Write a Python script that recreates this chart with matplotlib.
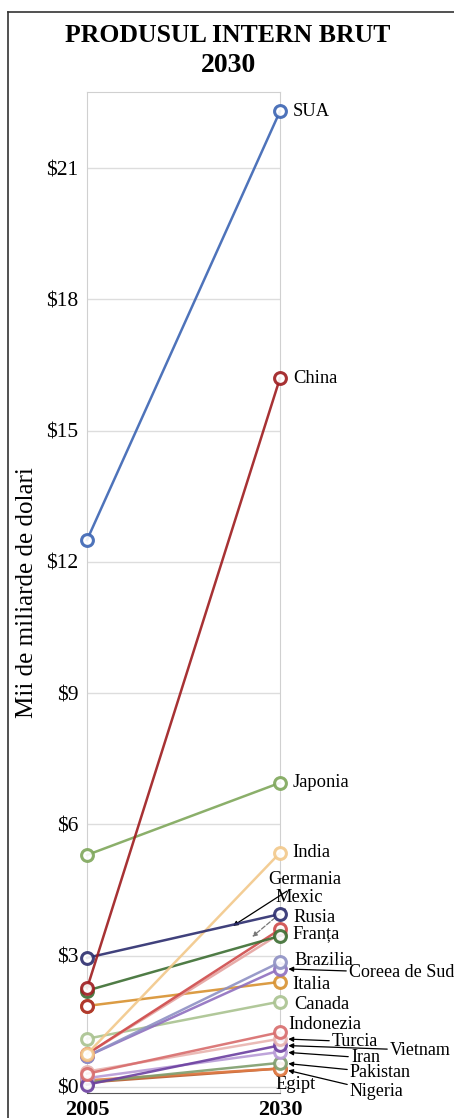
import matplotlib
matplotlib.use("Agg")
import matplotlib.pyplot as plt
from matplotlib.lines import Line2D

# date: PIB in mii de miliarde de dolari
tari = ['Nigeria', 'Egipt', 'Pakistan', 'Iran', 'Vietnam', 'Turcia', 'Indonezia',
        'Canada', 'Italia', 'Coreea de Sud', 'Brazilia', 'Mexic', 'Franța',
        'Germania', 'India', 'Rusia', 'Japonia', 'China', 'SUA']
pib_2005 = [0.10, 0.15, 0.10, 0.20, 0.05, 0.35, 0.30,
            1.10, 1.85, 0.70, 0.70, 0.75, 0.75,
            2.20, 0.75, 2.95, 5.30, 2.25, 12.5]
pib_2030 = [0.42, 0.42, 0.55, 0.80, 0.95, 1.10, 1.25,
            1.95, 2.40, 2.70, 2.85, 3.50, 3.60,
            3.45, 5.35, 3.95, 6.95, 16.2, 22.3]
culori = ['#b75a2b', '#e07b45', '#7f9e6d', '#b79ad6', '#6b3fa0', '#e8b4b0', '#d86c6c',
          '#a9c28f', '#d8912f', '#8f6fbf', '#8e90c4', '#e5a3a0', '#cf4a4a',
          '#3c6e32', '#f2c88a', '#2b2c6e', '#7ea75a', '#9e1b1e', '#3b64b3']
ani = [2005, 2030]
y_ticks = [0, 3, 6, 9, 12, 15, 18, 21]

# pozitii etichete (offset in pixeli fata de punctul din 2030)
etichete = {
    'SUA': (13, 0), 'China': (13, 0), 'Japonia': (13, 0), 'India': (12, 0),
    'Rusia': (13, -3), 'Franța': (12, -4), 'Brazilia': (14, 2), 'Italia': (12, -3),
    'Canada': (14, -3), 'Indonezia': (8, 8), 'Egipt': (-5, -16),
}
cu_sageata = {
    'Coreea de Sud': (69, -4), 'Turcia': (52, -3), 'Vietnam': (110, -5),
    'Iran': (71, -6), 'Pakistan': (70, -10), 'Nigeria': (70, -23),
}

serif = ['Liberation Serif', 'DejaVu Serif']
plt.rcParams['font.family'] = serif

fig = plt.figure(figsize=(4.54, 11.18), dpi=100)
ax = fig.add_axes([87 / 454, 1 - 1093 / 1118, 193 / 454, 1001 / 1118])

for i, t in enumerate(tari):
    ax.plot(ani, [pib_2005[i], pib_2030[i]], color=culori[i], lw=1.8, alpha=0.9,
            marker='o', ms=8.5, mfc='white', mec=culori[i], mew=2.2,
            clip_on=False, zorder=3 + i * 0.1)
# marker 2005 Italia (suprapus cu rosu)
k = tari.index('Italia')
ax.plot(ani[0], pib_2005[k], marker='o', ms=8.5, mfc='white', mec='#b0392e', mew=2.2,
        clip_on=False, zorder=6)

ax.set_xlim(2005, 2030)
ax.set_ylim(-0.14, 22.74)
ax.set_yticks(y_ticks)
ax.set_yticklabels(['$%d' % v for v in y_ticks], fontsize=15.5)
ax.set_xticks(ani)
ax.set_xticklabels([str(a) for a in ani], fontsize=16, fontweight='bold')
ax.tick_params(length=0)
ax.tick_params(axis='y', pad=6)
ax.tick_params(axis='x', pad=5)
ax.grid(axis='y', color='#dddddd', lw=1)
for s in ['left', 'right', 'top']:
    ax.spines[s].set_color('#d0d0d0')
ax.spines['bottom'].set_color('#555555')
ax.set_ylabel('Mii de miliarde de dolari', fontsize=18, labelpad=6)

for t, off in etichete.items():
    i = tari.index(t)
    ax.annotate(t, (2030, pib_2030[i]), xytext=off, textcoords='offset pixels',
                ha='left', va='center', fontsize=13.3, annotation_clip=False)

for t, off in cu_sageata.items():
    i = tari.index(t)
    ax.annotate(t, (2030, pib_2030[i]), xytext=off, textcoords='offset pixels',
                ha='left', va='center', fontsize=13, annotation_clip=False,
                arrowprops=dict(arrowstyle='-|>', color='black', lw=0.9,
                                mutation_scale=7, shrinkA=0, shrinkB=6))

# Germania si Mexic: sageti spre interiorul graficului
ax.annotate('Germania', (2023.9, 3.68), xytext=(35, 46), textcoords='offset pixels',
            ha='left', va='center', fontsize=13.3, annotation_clip=False,
            arrowprops=dict(arrowstyle='-|>', color='black', lw=0.9,
                            mutation_scale=7, shrinkA=0, shrinkB=0))
ax.annotate('Mexic', (2026.4, 3.43), xytext=(23, 39), textcoords='offset pixels',
            ha='left', va='center', fontsize=13.3, annotation_clip=False,
            arrowprops=dict(arrowstyle='-|>', color='#777777', lw=0.9,
                            mutation_scale=7, shrinkA=0, shrinkB=0, linestyle='--'))

fig.text(228 / 454, 1 - 36 / 1118, 'PRODUSUL INTERN BRUT', ha='center', va='center',
         fontsize=18.5, fontweight='bold')
fig.text(228 / 454, 1 - 66 / 1118, '2030', ha='center', va='center',
         fontsize=20, fontweight='bold')

# chenar
fig.add_artist(Line2D([8 / 454, 8 / 454], [0, 1 - 12 / 1118], color='#333333', lw=1.2))
fig.add_artist(Line2D([8 / 454, 1], [1 - 12 / 1118, 1 - 12 / 1118], color='#333333', lw=1.2))

fig.savefig('out.png', dpi=100)
